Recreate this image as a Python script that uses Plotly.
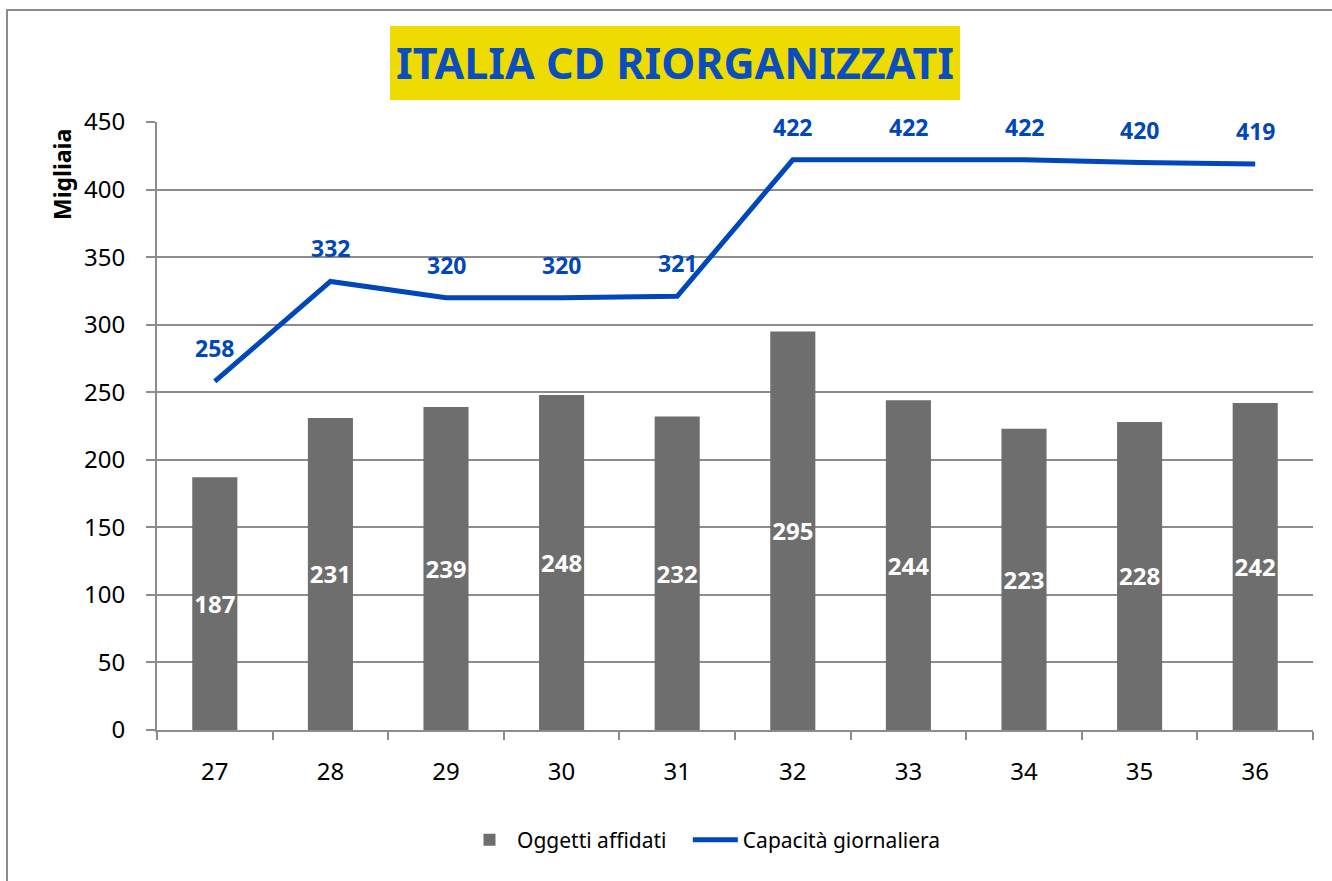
import plotly.graph_objects as go

settimane = ["27", "28", "29", "30", "31", "32", "33", "34", "35", "36"]
oggetti_affidati = [187, 231, 239, 248, 232, 295, 244, 223, 228, 242]
capacita_giornaliera = [258, 332, 320, 320, 321, 422, 422, 422, 420, 419]
y_ticks = [0, 50, 100, 150, 200, 250, 300, 350, 400, 450]

BLUE = "#0047BB"
GREY = "#6E6E6E"
FONT = "Noto Sans"

# plot area in pixels: x 157..1313, y 122..730
L, R, T, B = 157, 19, 122, 151
W, H = 1332, 881
pw, ph = W - L - R, H - T - B


def px(x):
    return (x - L) / pw


def py(y):
    return (H - B - y) / ph


bars = go.Bar(
    x=settimane,
    y=oggetti_affidati,
    name="Oggetti affidati\u00a0\u00a0\u00a0",
    marker=dict(color=GREY, line=dict(width=0)),
    text=[str(v) for v in oggetti_affidati],
    textposition="inside",
    insidetextanchor="middle",
    textfont=dict(color="white", size=24, family=FONT),
    texttemplate="<b>%{text}</b>",
    textangle=0,
)

line = go.Scatter(
    x=settimane,
    y=capacita_giornaliera,
    name="Capacità giornaliera",
    mode="lines",
    line=dict(color=BLUE, width=5),
)

fig = go.Figure(data=[bars, line])

# line labels above each point (category index, since names look numeric)
for i, v in enumerate(capacita_giornaliera):
    fig.add_annotation(
        x=i, y=v, text="<b>%d</b>" % v, showarrow=False, yshift=33,
        font=dict(color=BLUE, size=23, family=FONT),
    )

# title box
fig.add_shape(type="rect", xref="paper", yref="paper",
              x0=px(390), x1=px(960), y0=py(100), y1=py(26),
              fillcolor="#EEDC00", line=dict(width=0), layer="below")
fig.add_annotation(
    xref="paper", yref="paper", x=px(675), y=py(63),
    text="<b>ITALIA CD RIORGANIZZATI</b>", showarrow=False,
    font=dict(color="#0A4DBF", size=43, family=FONT),
    xanchor="center", yanchor="middle",
)

# y axis title, placed near the top like the original
fig.add_annotation(
    xref="paper", yref="paper", x=px(62), y=py(175),
    text="<b>Migliaia</b>", showarrow=False, textangle=-90,
    font=dict(color="black", size=23, family=FONT),
    xanchor="center", yanchor="middle",
)

# outer chart border
fig.add_shape(type="rect", xref="paper", yref="paper",
              x0=px(7), x1=px(1345), y0=py(895), y1=py(10),
              line=dict(color="#8C8C8C", width=2), fillcolor="rgba(0,0,0,0)")

fig.update_layout(
    width=W, height=H,
    margin=dict(l=L, r=R, t=T, b=B, autoexpand=False),
    paper_bgcolor="white",
    plot_bgcolor="white",
    font=dict(family=FONT, color="black", size=22),
    bargap=0.61,
    uniformtext=dict(minsize=24, mode="show"),
    showlegend=True,
    legend=dict(
        orientation="h", x=px(462), y=py(840), xanchor="left", yanchor="middle",
        font=dict(size=21, family=FONT), itemwidth=45,
        bgcolor="rgba(0,0,0,0)",
    ),
    xaxis=dict(
        type="category",
        showline=True, linecolor="#8C8C8C", linewidth=2,
        ticks="outside", tickson="boundaries", ticklen=8, tickcolor="#8C8C8C",
        tickwidth=2, showgrid=False, tickangle=0,
        tickfont=dict(size=24), ticklabelstandoff=19,
    ),
    yaxis=dict(
        range=[0, 450], tickvals=y_ticks,
        showline=True, linecolor="#8C8C8C", linewidth=2,
        ticks="outside", ticklen=9, tickcolor="#8C8C8C", tickwidth=2,
        showgrid=True, gridcolor="#8C8C8C", gridwidth=2,
        zeroline=False,
        tickfont=dict(size=24), ticklabelstandoff=16,
    ),
)

fig.write_html("out.html", config={"displayModeBar": False},
               post_script="document.body.style.margin='0';")
